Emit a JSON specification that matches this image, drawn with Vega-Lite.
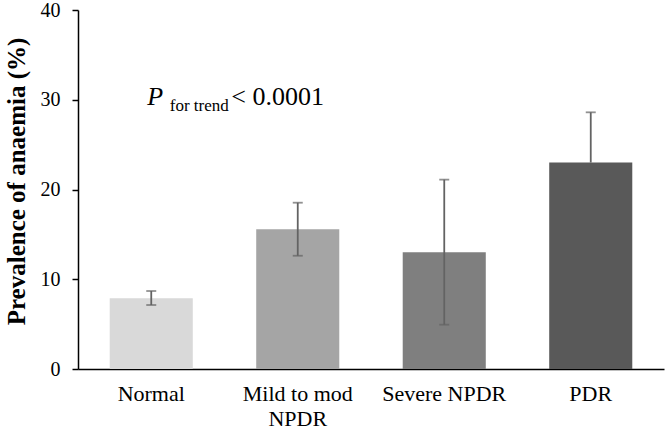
{
  "$schema": "https://vega.github.io/schema/vega-lite/v6.json",
  "width": 586,
  "height": 359,
  "autosize": {"type": "none"},
  "padding": {"left": 78, "top": 10, "right": 2, "bottom": 62},
  "background": "white",
  "config": {
    "view": {"stroke": null},
    "font": "Liberation Serif"
  },
  "datasets": {
    "bars": [
      {"group": "Normal", "value": 7.88, "lo": 7.13, "hi": 8.69},
      {"group": "Mild to mod NPDR", "value": 15.56, "lo": 12.62, "hi": 18.53},
      {"group": "Severe NPDR", "value": 13.0, "lo": 4.94, "hi": 21.1},
      {"group": "PDR", "value": 23.0, "lo": 23.0, "hi": 28.6}
    ],
    "note": [
      {"group": "Normal", "y": 29.42}
    ]
  },
  "encoding": {
    "x": {
      "field": "group",
      "type": "nominal",
      "sort": ["Normal", "Mild to mod NPDR", "Severe NPDR", "PDR"],
      "scale": {"paddingInner": 0.433, "paddingOuter": 0.2165},
      "axis": {
        "title": null,
        "labelAngle": 0,
        "labelFontSize": 22,
        "labelColor": "#000000",
        "labelFont": "Liberation Serif",
        "labelPadding": 14,
        "labelLineHeight": 25,
        "labelExpr": "datum.label == 'Mild to mod NPDR' ? ['Mild to mod', 'NPDR'] : datum.label",
        "ticks": false,
        "domainColor": "#000000",
        "domainWidth": 1.5,
        "grid": false
      }
    }
  },
  "layer": [
    {
      "data": {"name": "bars"},
      "mark": {"type": "bar"},
      "encoding": {
        "y": {
          "field": "value",
          "type": "quantitative",
          "scale": {"domain": [0, 40]},
          "axis": {
            "title": "Prevalence of anaemia (%)",
            "titleFont": "Liberation Serif",
            "titleFontSize": 25,
            "titleFontWeight": "bold",
            "titleColor": "#000000",
            "titlePadding": 11,
            "titleY": 171,
            "values": [0, 10, 20, 30, 40],
            "labelFontSize": 20,
            "labelColor": "#000000",
            "labelFont": "Liberation Serif",
            "labelPadding": 12,
            "tickSize": 6,
            "tickColor": "#000000",
            "tickWidth": 1.5,
            "domainColor": "#000000",
            "domainWidth": 1.5,
            "grid": false
          }
        },
        "color": {
          "field": "group",
          "type": "nominal",
          "legend": null,
          "scale": {
            "domain": ["Normal", "Mild to mod NPDR", "Severe NPDR", "PDR"],
            "range": ["#d9d9d9", "#a5a5a5", "#7f7f7f", "#595959"]
          }
        }
      }
    },
    {
      "data": {"name": "bars"},
      "mark": {"type": "rule", "color": "#636363", "strokeWidth": 1.8},
      "encoding": {
        "y": {"field": "lo", "type": "quantitative"},
        "y2": {"field": "hi"}
      }
    },
    {
      "data": {"name": "bars"},
      "mark": {"type": "tick", "color": "#636363", "size": 10, "thickness": 1.8, "orient": "horizontal"},
      "encoding": {
        "y": {"field": "hi", "type": "quantitative"}
      }
    },
    {
      "data": {"name": "bars"},
      "transform": [{"filter": "datum.lo < datum.value"}],
      "mark": {"type": "tick", "color": "#636363", "size": 10, "thickness": 1.8, "orient": "horizontal"},
      "encoding": {
        "y": {"field": "lo", "type": "quantitative"}
      }
    },
    {
      "data": {"name": "note"},
      "mark": {"type": "text", "text": "P", "font": "Liberation Serif", "fontStyle": "italic", "fontSize": 26, "align": "left", "baseline": "alphabetic", "dx": -4, "color": "#000000"},
      "encoding": {"y": {"field": "y", "type": "quantitative"}}
    },
    {
      "data": {"name": "note"},
      "mark": {"type": "text", "text": "for trend", "font": "Liberation Serif", "fontSize": 17, "align": "left", "baseline": "alphabetic", "dx": 18.5, "dy": 6, "color": "#000000"},
      "encoding": {"y": {"field": "y", "type": "quantitative"}}
    },
    {
      "data": {"name": "note"},
      "mark": {"type": "text", "text": "< 0.0001", "font": "Liberation Serif", "fontSize": 26, "align": "left", "baseline": "alphabetic", "dx": 80, "color": "#000000"},
      "encoding": {"y": {"field": "y", "type": "quantitative"}}
    }
  ]
}
